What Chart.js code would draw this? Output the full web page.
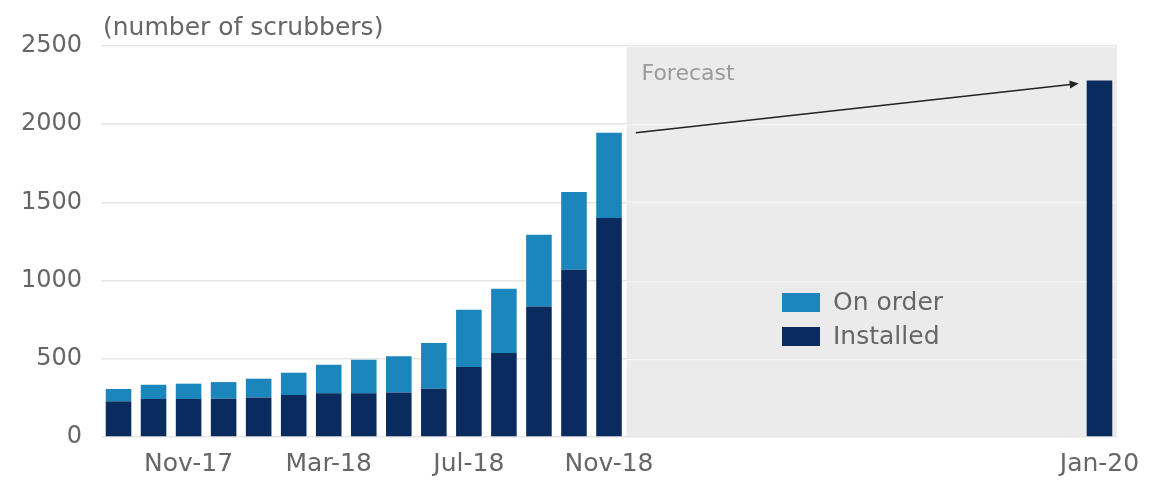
<!DOCTYPE html>
<html>
<head>
<meta charset="utf-8">
<script src="https://cdn.jsdelivr.net/npm/chart.js@4/dist/chart.umd.min.js"></script>
<style>
  html, body { margin: 0; padding: 0; background: #fff; }
  #wrap { width: 1153px; height: 483px; }
</style>
</head>
<body>
<div id="wrap"><canvas id="chart-area" width="1153" height="483"></canvas></div>
<script>
// monthly axis, Sep-17 .. Jan-20
var months = [
  'Sep-17', 'Oct-17', 'Nov-17', 'Dec-17', 'Jan-18', 'Feb-18', 'Mar-18', 'Apr-18',
  'May-18', 'Jun-18', 'Jul-18', 'Aug-18', 'Sep-18', 'Oct-18', 'Nov-18', 'Dec-18',
  'Jan-19', 'Feb-19', 'Mar-19', 'Apr-19', 'May-19', 'Jun-19', 'Jul-19', 'Aug-19',
  'Sep-19', 'Oct-19', 'Nov-19', 'Dec-19', 'Jan-20'
];
var shownLabels = ['Nov-17', 'Mar-18', 'Jul-18', 'Nov-18', 'Jan-20'];

var installed = [228, 243, 243, 245, 253, 268, 279, 279, 285, 309, 447, 537, 835, 1069, 1400,
  null, null, null, null, null, null, null, null, null, null, null, null, null, 2279];
var onOrder = [79, 91, 98, 106, 120, 143, 183, 215, 232, 292, 366, 411, 458, 498, 545,
  null, null, null, null, null, null, null, null, null, null, null, null, null, null];

var yTicks = [0, 500, 1000, 1500, 2000, 2500];
var forecastFrom = 'Dec-18';

var FONT = '"DejaVu Sans", sans-serif';
var TEXT = '#666666';

// left edge of the forecast panel (start of the Dec-18 slot)
function forecastLeft(chart) {
  var x = chart.scales.x;
  var i = months.indexOf(forecastFrom);
  return x.getPixelForValue(i) - (x.getPixelForValue(1) - x.getPixelForValue(0)) / 2;
}

// grey forecast panel, title, legend and arrow
var extras = {
  id: 'extras',
  beforeDraw: function(chart) {
    var ctx = chart.ctx, a = chart.chartArea;
    var x0 = forecastLeft(chart);
    ctx.save();
    ctx.fillStyle = '#ebebeb';
    ctx.fillRect(x0, a.top, a.right - x0, a.bottom - a.top);
    ctx.restore();
  },
  beforeDatasetsDraw: function(chart) {
    // lighter gridlines over the grey panel
    var ctx = chart.ctx, a = chart.chartArea, y = chart.scales.y;
    var x0 = forecastLeft(chart);
    ctx.save();
    ctx.strokeStyle = '#f5f5f5';
    ctx.lineWidth = 1.5;
    yTicks.forEach(function(v) {
      if (v === 0) return;
      var py = Math.round(y.getPixelForValue(v)) + 0.5;
      ctx.beginPath();
      ctx.moveTo(x0, py);
      ctx.lineTo(a.right, py);
      ctx.stroke();
    });
    ctx.restore();
  },
  afterDraw: function(chart) {
    var ctx = chart.ctx, a = chart.chartArea, y = chart.scales.y;
    ctx.save();

    // axis unit
    ctx.fillStyle = TEXT;
    ctx.font = '25px ' + FONT;
    ctx.textBaseline = 'alphabetic';
    ctx.textAlign = 'left';
    ctx.fillText('(number of scrubbers)', a.left + 2, 35);

    // forecast label
    ctx.fillStyle = '#9a9a9a';
    ctx.font = '22px ' + FONT;
    ctx.fillText('Forecast', forecastLeft(chart) + 15, 80);

    // arrow from last actual total to the Jan-20 forecast
    var last = months.indexOf('Nov-18'), fc = months.length - 1;
    var barLast = chart.getDatasetMeta(1).data[last];
    var barFc = chart.getDatasetMeta(0).data[fc];
    var sx = barLast.x + barLast.width / 2 + 14;
    var sy = y.getPixelForValue(installed[last] + onOrder[last]);
    var ex = barFc.x - barFc.width / 2 - 8;
    var ey = y.getPixelForValue(installed[fc]) + 3;
    var ang = Math.atan2(ey - sy, ex - sx);
    ctx.strokeStyle = '#222';
    ctx.fillStyle = '#222';
    ctx.lineWidth = 1.6;
    ctx.beginPath();
    ctx.moveTo(sx, sy);
    ctx.lineTo(ex - 6 * Math.cos(ang), ey - 6 * Math.sin(ang));
    ctx.stroke();
    ctx.beginPath();
    ctx.moveTo(ex, ey);
    ctx.lineTo(ex - 9 * Math.cos(ang) + 4 * Math.sin(ang), ey - 9 * Math.sin(ang) - 4 * Math.cos(ang));
    ctx.lineTo(ex - 9 * Math.cos(ang) - 4 * Math.sin(ang), ey - 9 * Math.sin(ang) + 4 * Math.cos(ang));
    ctx.closePath();
    ctx.fill();

    // legend, On order above Installed
    var lx = 782, ly = 293;
    var items = [chart.data.datasets[1], chart.data.datasets[0]];
    ctx.font = '25px ' + FONT;
    ctx.textBaseline = 'middle';
    items.forEach(function(ds, i) {
      var top = ly + i * 34;
      ctx.fillStyle = ds.backgroundColor;
      ctx.fillRect(lx, top, 38, 19);
      ctx.fillStyle = TEXT;
      ctx.fillText(ds.label, lx + 51, top + 10);
    });
    ctx.restore();
  }
};

var config = {
  type: 'bar',
  data: {
    labels: months,
    datasets: [{
      label: 'Installed',
      data: installed,
      backgroundColor: '#0a2b5e',
      barPercentage: 0.73,
      categoryPercentage: 1
    }, {
      label: 'On order',
      data: onOrder,
      backgroundColor: '#1a86bc',
      barPercentage: 0.73,
      categoryPercentage: 1
    }]
  },
  options: {
    responsive: false,
    animation: false,
    layout: { padding: { top: 46, right: 36, left: 0, bottom: 0 } },
    plugins: {
      legend: { display: false },
      tooltip: { enabled: false }
    },
    scales: {
      x: {
        stacked: true,
        grid: { display: false, drawTicks: false },
        border: { display: false },
        ticks: {
          autoSkip: false,
          maxRotation: 0,
          padding: 12,
          color: TEXT,
          font: { family: FONT, size: 25 },
          callback: function(value) {
            var l = this.getLabelForValue(value);
            return shownLabels.indexOf(l) >= 0 ? l : '';
          }
        },
        afterFit: function(scale) { scale.height = 46; }
      },
      y: {
        stacked: true,
        min: 0,
        max: 2500,
        afterBuildTicks: function(scale) {
          scale.ticks = yTicks.map(function(v) { return { value: v }; });
        },
        grid: { color: '#e6e6e6', lineWidth: 1.5, drawTicks: false },
        border: { display: false },
        ticks: {
          padding: 19,
          color: TEXT,
          font: { family: FONT, size: 24 },
          callback: function(value) { return String(value); }
        },
        afterFit: function(scale) { scale.width = 101; }
      }
    }
  },
  plugins: [extras]
};

window.onload = function() {
  var ctx = document.getElementById('chart-area').getContext('2d');
  window.myBar = new Chart(ctx, config);
};
</script>
</body>
</html>
